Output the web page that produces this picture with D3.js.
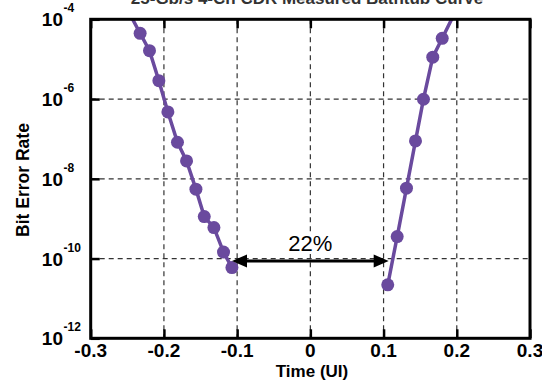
<!DOCTYPE html>
<html><head><meta charset="utf-8">
<script src="https://cdn.jsdelivr.net/npm/d3@7"></script>
<style>body{margin:0;background:#fff}svg{display:block}text{font-family:"Liberation Sans",Arial,Helvetica,sans-serif}</style>
</head><body><svg id="c" width="542" height="390"></svg>
<script>
const title = "25-Gb/s 4-Ch CDR Measured Bathtub Curve";
const xTicks = [-0.3, -0.2, -0.1, 0, 0.1, 0.2, 0.3];
const xTickLabels = ["-0.3", "-0.2", "-0.1", "0", "0.1", "0.2", "0.3"];
const yTickExps = [-4, -6, -8, -10, -12];
const xLabel = "Time (UI)";
const yLabel = "Bit Error Rate";
// left side of bathtub
const leftX = [-0.2502, -0.2325, -0.2197, -0.2069, -0.1946, -0.1815, -0.1691, -0.1563, -0.1449, -0.1317, -0.1186, -0.1071];
const leftBER = [1.8e-4, 4.46e-5, 1.63e-5, 2.89e-6, 4.75e-7, 8.26e-8, 2.81e-8, 5.5e-9, 1.13e-9, 5.98e-10, 1.45e-10, 5.94e-11];
// right side of bathtub
const rightX = [0.1057, 0.1186, 0.1313, 0.1436, 0.1545, 0.1672, 0.1801, 0.1994];
const rightBER = [2.19e-11, 3.56e-10, 5.81e-9, 8.9e-8, 9.9e-7, 1.12e-5, 3.34e-5, 1.74e-4];
const openingLabel = "22%";
const openingX = [-0.107, 0.107];
const openingBER = 8.7e-11;

(function () {
const svg = d3.select("#c");
const m = {l: 90.7, r: 530, t: 19.3, b: 338.3};
const x = d3.scaleLinear().domain([-0.3, 0.3]).range([m.l, m.r]);
const y = d3.scaleLog().domain([1e-12, 1e-4]).range([m.b, m.t]);
const col = "#6a4a9e";

svg.append("defs").append("clipPath").attr("id", "clip")
  .append("rect").attr("x", m.l).attr("y", m.t).attr("width", m.r - m.l).attr("height", m.b - m.t);

// title (clipped at top as in the reference)
svg.append("text").attr("x", 307).attr("y", 4).attr("text-anchor", "middle")
  .attr("font-weight", "bold").attr("font-size", 17).attr("fill", "#333").text(title);

// grid
const grid = svg.append("g").attr("stroke", "#333").attr("stroke-width", 1.2).attr("stroke-dasharray", "5,4");
xTicks.slice(1, -1).forEach(v => grid.append("line").attr("x1", x(v)).attr("x2", x(v)).attr("y1", m.t).attr("y2", m.b));
yTickExps.slice(1, -1).forEach(e => grid.append("line").attr("x1", m.l).attr("x2", m.r).attr("y1", y(Math.pow(10, e))).attr("y2", y(Math.pow(10, e))));

// inward ticks via d3 axes
const axB = d3.axisBottom(x).tickValues(xTicks).tickSize(-9).tickFormat("");
const axT = d3.axisTop(x).tickValues(xTicks).tickSize(-9).tickFormat("");
const axL = d3.axisLeft(y).tickValues(yTickExps.map(e => Math.pow(10, e))).tickSize(-9).tickFormat("");
[[axB, `translate(0,${m.b})`], [axT, `translate(0,${m.t})`], [axL, `translate(${m.l},0)`]].forEach(([ax, tr]) => {
  const g = svg.append("g").attr("transform", tr).call(ax);
  g.select(".domain").remove();
  g.selectAll("line").attr("stroke", "#000").attr("stroke-width", 2.5);
});

// tick labels
xTicks.forEach((v, i) => svg.append("text").attr("x", x(v)).attr("y", 357).attr("text-anchor", "middle")
  .attr("font-weight", "bold").attr("font-size", 19).text(xTickLabels[i]));
yTickExps.forEach(e => {
  svg.append("text").attr("x", 63).attr("y", y(Math.pow(10, e)) + 7).attr("text-anchor", "end")
    .attr("font-weight", "bold").attr("font-size", 19).text("10");
  svg.append("text").attr("x", 63.5).attr("y", y(Math.pow(10, e)) - 7).attr("font-weight", "bold")
    .attr("font-size", 12).text(String(e));
});

// axis titles
svg.append("text").attr("x", 312).attr("y", 377).attr("text-anchor", "middle")
  .attr("font-weight", "bold").attr("font-size", 17).text(xLabel);
svg.append("text").attr("transform", "translate(29,180) rotate(-90)").attr("text-anchor", "middle")
  .attr("font-weight", "bold").attr("font-size", 17.5).text(yLabel);

// data
const plot = svg.append("g").attr("clip-path", "url(#clip)");
const line = d3.line().x(d => x(d[0])).y(d => y(d[1]));
[[leftX, leftBER], [rightX, rightBER]].forEach(([xs, bs]) => {
  const pts = xs.map((v, i) => [v, bs[i]]);
  plot.append("path").datum(pts).attr("d", line).attr("fill", "none").attr("stroke", col).attr("stroke-width", 3.5);
  plot.selectAll(null).data(pts).enter().append("circle")
    .attr("cx", d => x(d[0])).attr("cy", d => y(d[1])).attr("r", 6.5).attr("fill", col);
});

// opening annotation
const ay = y(openingBER);
const x1 = x(openingX[0]), x2 = x(openingX[1]);
svg.append("rect").attr("x", 283).attr("y", 232).attr("width", 52).attr("height", 22).attr("fill", "#fff");
svg.append("text").attr("x", (x1 + x2) / 2).attr("y", 251).attr("text-anchor", "middle")
  .attr("font-size", 22).text(openingLabel);
svg.append("line").attr("x1", x1 + 10).attr("x2", x2 - 10).attr("y1", ay).attr("y2", ay)
  .attr("stroke", "#000").attr("stroke-width", 3);
svg.append("path").attr("d", `M${x1},${ay}L${x1 + 15},${ay - 6.5}L${x1 + 15},${ay + 6.5}Z`).attr("fill", "#000");
svg.append("path").attr("d", `M${x2},${ay}L${x2 - 15},${ay - 6.5}L${x2 - 15},${ay + 6.5}Z`).attr("fill", "#000");

// border
svg.append("rect").attr("x", m.l).attr("y", m.t).attr("width", m.r - m.l).attr("height", m.b - m.t)
  .attr("fill", "none").attr("stroke", "#000").attr("stroke-width", 3);
})();
</script></body></html>
